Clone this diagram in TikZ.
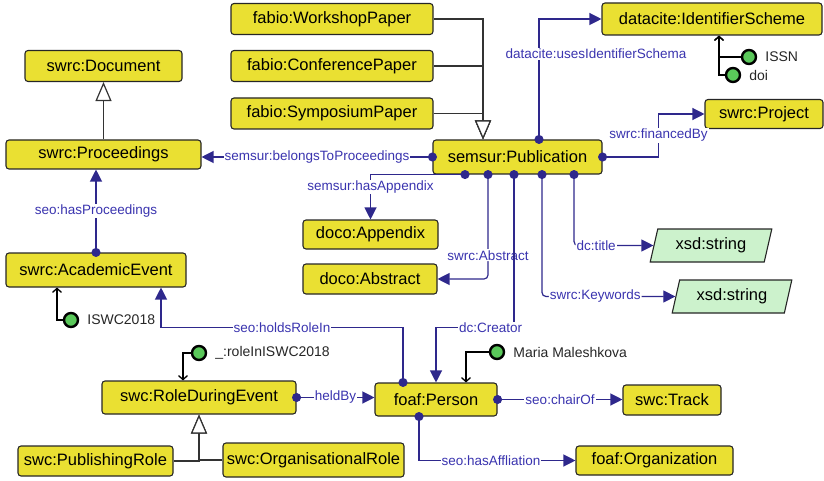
\documentclass[tikz,border=0pt]{standalone}
\usepackage{fontspec}
\setmainfont{Liberation Sans}
\usetikzlibrary{arrows.meta,positioning,shapes.geometric}
\definecolor{clsfill}{RGB}{234,224,50}
\definecolor{litfill}{RGB}{204,242,204}
\definecolor{indfill}{RGB}{90,200,90}
\definecolor{propline}{RGB}{46,40,140}
\definecolor{proptext}{RGB}{58,52,175}

\begin{document}
\begin{tikzpicture}[x=1pt, y=-1pt,
  cls/.style={draw=black!85, line width=1.1pt, fill=clsfill, rounded corners=3pt, minimum height=31pt, inner xsep=1pt, font=\fontsize{16.5}{18}\selectfont},
  lit/.style={trapezium, trapezium left angle=76, trapezium right angle=104, trapezium stretches=true, draw=black!85, line width=1.1pt, fill=litfill, minimum height=33pt, font=\fontsize{16.5}{18}\selectfont},
  ind/.style={circle, draw=black, line width=2.4pt, fill=indfill, minimum size=14pt, inner sep=0pt},
  indlbl/.style={inner sep=0pt, text=black!85, font=\fontsize{14}{16}\selectfont},
  lbl/.style={fill=white, inner sep=1pt, text=proptext, font=\fontsize{13.5}{15}\selectfont},
  prop/.style={draw=propline, line width=1.2pt, shorten <=-4.5pt, arrows={Circle[length=9pt]-Triangle[length=12pt,width=12pt]}},
  isa/.style={draw=black!80, line width=1.2pt, arrows={-Triangle[length=19pt,width=16pt,fill=white]}},
  inst/.style={draw=black, line width=1.3pt, arrows={-Straight Barb[length=4pt,width=9pt]}}]
\useasboundingbox (0,0) rectangle (824,481);

\node[cls, minimum width=157pt] (doc) at (103.5,66) {swrc:Document};
\node[cls, minimum width=195pt, minimum height=29pt] (proc) at (103.5,154.5) {swrc:Proceedings};
\draw[isa] (proc) -- (doc);
\node[cls, minimum width=180pt, minimum height=34pt] (event) at (96,270) {swrc:AcademicEvent};
\draw[prop] (event.north) -- node[lbl] {seo:hasProceedings} (event.north |- proc.south);

\node[cls, minimum width=202pt] (workshop) at (332,19) {fabio:WorkshopPaper};
\node[cls, minimum width=202pt] (conference) at (332,66) {fabio:ConferencePaper};
\node[cls, minimum width=202pt] (symposium) at (332,113.5) {fabio:SymposiumPaper};
\node[cls, minimum width=169pt, minimum height=34pt] (pub) at (517.5,157) {semsur:Publication};
\draw[isa] (workshop.east) -| ([xshift=-34.5pt]pub.north);
\draw[isa] (conference.east) -| ([xshift=-34.5pt]pub.north);
\draw[isa] (symposium.east) -| ([xshift=-34.5pt]pub.north);
\draw[prop] (pub.west) -- node[lbl] {semsur:belongsToProceedings} (pub.west -| proc.east);

\node[cls, minimum width=220pt, minimum height=32pt] (scheme) at (712,19) {datacite:IdentifierScheme};
\draw[prop] ([xshift=21.5pt]pub.north) |- (scheme.west);
\node[lbl] (schemalbl) at (596,54) {datacite:usesIdentifierSchema};
\node[ind] (issn) at (749,57) {};
\node[indlbl, right=8pt of issn] (issnlbl) {ISSN};
\node[ind] (doi) at (733,75) {};
\node[indlbl, right=8pt of doi] (doilbl) {doi};
\draw[inst] (issn.west) -| ([xshift=7pt]scheme.south);
\draw[inst] (doi.west) -| ([xshift=7pt]scheme.south);

\node[cls, minimum width=118pt, minimum height=29pt] (project) at (764,114) {swrc:Project};
\draw[prop] (pub.east) -- ++(56,0) |- node[lbl, pos=0.25] {swrc:financedBy} (project.west);

\node[cls, minimum width=135pt, minimum height=29pt] (appendix) at (370.5,234.5) {doco:Appendix};
\draw[prop] ([xshift=-52.5pt]pub.south) -| node[lbl, pos=0.64] {semsur:hasAppendix} (appendix.north);
\node[cls, minimum width=134pt, minimum height=30pt] (abstract) at (370,279) {doco:Abstract};
\draw[prop, rounded corners=4pt] ([xshift=-29.5pt]pub.south) |- node[lbl, pos=0.386] {swrc:Abstract} (abstract.east);

\node[lit, minimum width=122pt] (title) at (711,245.5) {xsd:string};
\draw[prop, rounded corners=4pt] ([xshift=56.5pt]pub.south) |- node[lbl, pos=0.64] {dc:title} (title.west);
\node[lit, minimum width=120pt] (keywords) at (732,296.5) {xsd:string};
\draw[prop, rounded corners=4pt] ([xshift=24.5pt]pub.south) |- node[lbl, pos=0.70] {swrc:Keywords} (keywords.west);

\node[cls, minimum width=122pt, minimum height=33pt] (person) at (436,399.5) {foaf:Person};
\draw[prop] ([xshift=-3.5pt]pub.south) -- ++(0,153) -| node[lbl, pos=0.15] {dc:Creator} (person.north);
\node[ind] (maria) at (497,352) {};
\node[indlbl, right=8pt of maria] (marialbl) {Maria Maleshkova};
\draw[inst] (maria.west) -| ([xshift=30pt]person.north);

\node[ind] (iswc) at (71,320) {};
\node[indlbl, right=8pt of iswc] (iswclbl) {ISWC2018};
\draw[inst] (iswc.west) -| ([xshift=-39pt]event.south);

\node[cls, minimum width=194pt, minimum height=33pt] (role) at (199,397.5) {swc:RoleDuringEvent};
\draw[prop] (role.east) -- node[lbl] {heldBy} (role.east -| person.west);
\draw[prop] ([xshift=-33pt]person.north) -- ++(0,-55) -| node[lbl, pos=0.25] {seo:holdsRoleIn} ([xshift=65pt]event.south);
\node[ind] (roleinst) at (199,353) {};
\node[indlbl, right=8pt of roleinst] (roleinstlbl) {\_:roleInISWC2018};
\draw[inst] (roleinst.west) -| ([xshift=-16pt]role.north);

\node[cls, minimum width=98pt, minimum height=30pt] (track) at (672,400) {swc:Track};
\draw[prop] (person.east) -- node[lbl] {seo:chairOf} (person.east -| track.west);
\node[cls, minimum width=157pt, minimum height=29pt] (organization) at (654.5,460.5) {foaf:Organization};
\draw[prop] ([xshift=-17pt]person.south) |- node[lbl, pos=0.73] {seo:hasAffliation} (organization.west);

\node[cls, minimum width=155pt, minimum height=30pt] (pubrole) at (95.5,461) {swc:PublishingRole};
\node[cls, minimum width=181pt, minimum height=34pt] (orgrole) at (313.5,460) {swc:OrganisationalRole};
\draw[isa] (pubrole.east) -| (role.south);
\draw[isa] (orgrole.west) -| (role.south);
\end{tikzpicture}
\end{document}
